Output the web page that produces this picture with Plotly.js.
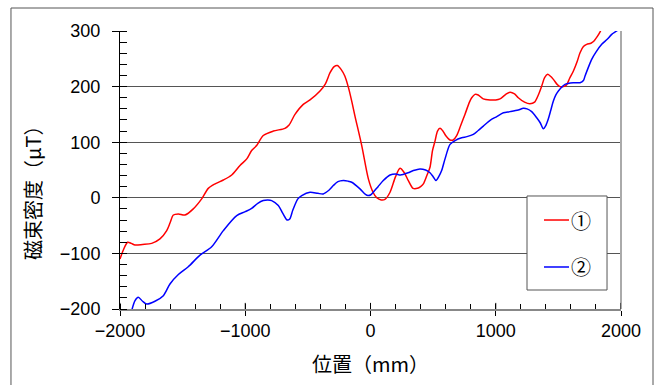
<!DOCTYPE html>
<html>
<head>
<meta charset="utf-8">
<script src="https://cdn.plot.ly/plotly-3.0.1.min.js"></script>
<style>html,body{margin:0;padding:0;background:#fff;}#chart{width:660px;height:385px;}</style>
</head>
<body>
<div id="chart"></div>
<script>
// Series ① (red)
const x1 = [-2000,-1970,-1939,-1910,-1880,-1820,-1747,-1681,-1627,-1600,-1574,-1534,-1481,-1415,-1348,-1295,-1241,-1175,-1108,-1042,-988,-949,-909,-856,-776,-683,-650,-603,-537,-483,-403,-360,-323,-290,-265,-235,-205,-177,-150,-124,-70,-17,20,50,85,115,156,200,236,270,302,340,375,400,422,450,475,495,515,535,555,575,600,635,660,688,720,754,790,808,834,860,900,954,1000,1034,1080,1114,1150,1180,1230,1273,1310,1340,1367,1390,1415,1435,1460,1490,1513,1540,1565,1590,1620,1650,1673,1700,1726,1760,1780,1810,1832,1860];
const y1 = [-110,-92,-80,-82,-85,-84,-82,-74,-59,-45,-31,-29,-31,-20,-2,17,25,32,41,58,70,85,94,112,120,125,131,150,168,176,192,205,225,236,238,231,219,199,174,147,94,34,10,0,-4,-3,10,38,53,45,31,17,17,20,25,40,55,85,102,120,125,121,112,104,104,112,130,150,172,180,186,185,178,176,176,178,186,190,187,180,172,169,172,185,201,216,222,219,213,204,200,200,203,215,228,245,261,272,276,278,281,290,298,312];
// Series ② (blue)
const x2 = [-1915,-1880,-1854,-1820,-1787,-1721,-1654,-1601,-1534,-1455,-1361,-1268,-1175,-1068,-1000,-949,-900,-856,-820,-789,-736,-700,-665,-645,-620,-580,-549,-483,-420,-377,-330,-297,-260,-217,-180,-150,-84,-40,-20,0,22,60,102,156,200,240,300,342,395,440,475,500,523,545,568,595,635,675,728,770,821,860,901,960,1008,1061,1114,1180,1220,1250,1287,1327,1355,1380,1400,1420,1440,1460,1480,1500,1553,1620,1673,1700,1713,1740,1766,1800,1846,1890,1926,1966,1995];
const y2 = [-210,-185,-179,-186,-191,-186,-176,-155,-138,-124,-103,-88,-59,-32,-25,-19,-10,-5,-4,-5,-14,-28,-40,-38,-22,-2,4,10,8,7,14,22,29,31,30,28,16,6,4,5,10,20,31,41,43,41,45,49,52,50,45,38,31,38,49,70,96,103,108,110,114,121,129,140,146,153,155,158,161,160,155,144,135,124,130,142,158,174,185,192,204,207,207,211,219,235,249,262,276,285,294,300,306];

const names = ['①','②'];
const colors = ['#ff0000','#0000ff'];
const xTicks = [-2000,-1000,0,1000,2000];
const xRange = [-2000,2000];
const yRange = [-200,300];
const xTitle = '位置（mm）';
const yTitle = '磁束密度（μT）';

const tickFont = {family:'Liberation Sans, Arial, sans-serif', size:18, color:'#000'};
const cjkFont = {family:'Noto Sans CJK JP, sans-serif', size:20, color:'#000'};

const traces = [
  {x:x1, y:y1, name:names[0], type:'scatter', mode:'lines', line:{color:colors[0], width:1.5, shape:'spline', smoothing:0.8}, showlegend:false},
  {x:x2, y:y2, name:names[1], type:'scatter', mode:'lines', line:{color:colors[1], width:1.5, shape:'spline', smoothing:0.8}, showlegend:false}
];

const shapes = [
  // outer frame
  {type:'rect', xref:'paper', yref:'paper', x0:-0.2176, x1:1.0639, y0:-0.4, y1:1.0827, line:{color:'#555', width:1}, fillcolor:'rgba(0,0,0,0)', layer:'below'},
  // right plot border
  {type:'line', xref:'paper', yref:'paper', x0:1, x1:1, y0:0, y1:1, line:{color:'#aaa', width:2}},
  // legend box
  {type:'rect', xref:'paper', yref:'paper', x0:0.8124, x1:0.9721, y0:0.0683, y1:0.4065, line:{color:'#555', width:1}, fillcolor:'#fff'},
  {type:'line', xref:'paper', yref:'paper', x0:0.8463, x1:0.8962, y0:0.3201, y1:0.3201, line:{color:colors[0], width:1.5}},
  {type:'line', xref:'paper', yref:'paper', x0:0.8463, x1:0.8962, y0:0.1511, y1:0.1511, line:{color:colors[1], width:1.5}}
];
// inward part of major x ticks
xTicks.forEach(v => shapes.push({type:'line', xref:'x', yref:'paper', x0:v, x1:v, y0:0, y1:0.022, line:{color:'#000', width:1}}));

const annotations = [
  {text:yTitle, xref:'paper', yref:'paper', x:-0.1756, y:0.435, textangle:-90, showarrow:false, font:cjkFont, xanchor:'center', yanchor:'middle'},
  {text:names[0], xref:'paper', yref:'paper', x:0.9202, y:0.3201, showarrow:false, font:cjkFont, xanchor:'center', yanchor:'middle'},
  {text:names[1], xref:'paper', yref:'paper', x:0.9202, y:0.1511, showarrow:false, font:cjkFont, xanchor:'center', yanchor:'middle'}
];

const layout = {
  width:660, height:385, autosize:false,
  margin:{l:120, r:39, t:31, b:76, pad:0},
  paper_bgcolor:'#fff', plot_bgcolor:'#fff',
  showlegend:false,
  xaxis:{
    range:xRange, tickvals:xTicks, ticks:'outside', ticklen:5, tickcolor:'#000', tickwidth:1,
    showline:true, linecolor:'#888', linewidth:1.5, showgrid:false, zeroline:false,
    minor:{dtick:200, tick0:-2000, ticks:'inside', ticklen:5, tickcolor:'#000', showgrid:false},
    tickfont:tickFont, title:{text:xTitle, font:cjkFont, standoff:18}, fixedrange:true
  },
  yaxis:{
    range:yRange, dtick:100, tick0:-200, ticks:'outside', ticklen:7, tickcolor:'#000', tickwidth:1,
    showline:true, linecolor:'#000', linewidth:1, showgrid:true, gridcolor:'#555', gridwidth:1, zeroline:false,
    minor:{dtick:20, ticks:'inside', ticklen:7, tickcolor:'#000', showgrid:false},
    tickfont:tickFont, ticklabelstandoff:8, fixedrange:true
  },
  shapes:shapes,
  annotations:annotations
};

Plotly.newPlot('chart', traces, layout, {staticPlot:true, displayModeBar:false});
</script>
</body>
</html>
